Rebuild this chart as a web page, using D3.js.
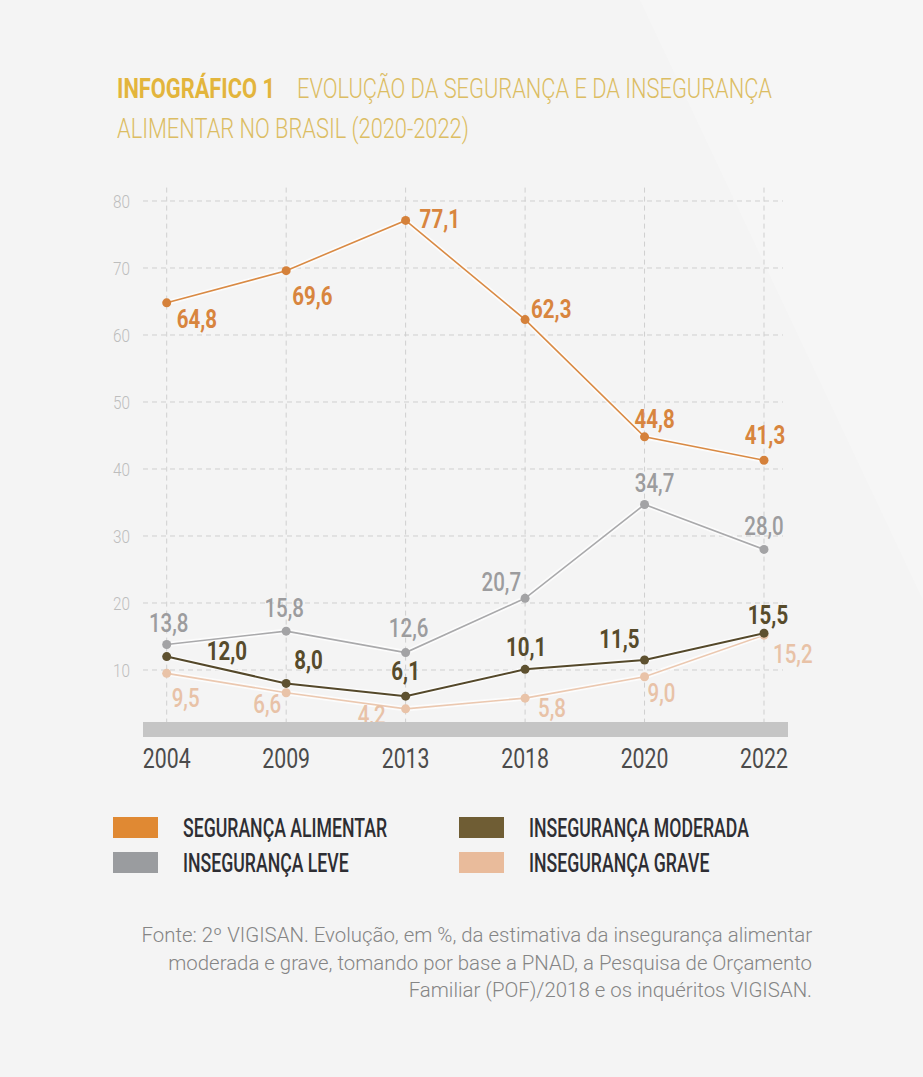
<!DOCTYPE html>
<html>
<head>
<meta charset="utf-8">
<script src="https://cdn.jsdelivr.net/npm/d3@7"></script>
<style>
    html, body { margin: 0; padding: 0; background: #f4f4f4; }
    svg { display: block; font-family: Roboto, "Liberation Sans", sans-serif; }
</style>
</head>
<body>
<div id="chartId"></div>
<script>
/*
Data
*/
const years = ["2004", "2009", "2013", "2018", "2020", "2022"];
const seguranca = [64.8, 69.6, 77.1, 62.3, 44.8, 41.3];
const inseg_leve = [13.8, 15.8, 12.6, 20.7, 34.7, 28.0];
const inseg_moderada = [12.0, 8.0, 6.1, 10.1, 11.5, 15.5];
const inseg_grave = [9.5, 6.6, 4.2, 5.8, 9.0, 15.2];
const y_ticks = [10, 20, 30, 40, 50, 60, 70, 80];
const series_names = ["SEGURANÇA ALIMENTAR", "INSEGURANÇA LEVE", "INSEGURANÇA MODERADA", "INSEGURANÇA GRAVE"];

const title_bold = "INFOGRÁFICO 1";
const title_1 = "EVOLUÇÃO DA SEGURANÇA E DA INSEGURANÇA";
const title_2 = "ALIMENTAR NO BRASIL (2020-2022)";
const source_lines = [
    "Fonte: 2º VIGISAN. Evolução, em %, da estimativa da insegurança alimentar",
    "moderada e grave, tomando por base a PNAD, a Pesquisa de Orçamento",
    "Familiar (POF)/2018 e os inquéritos VIGISAN."
];

/*
Label placement per point: [dx, dy, anchor]
*/
const place_seg = [[10, 25, "start"], [6, 34, "start"], [14, 8, "start"], [6, -2, "start"], [10, -9, "middle"], [1, -16, "middle"]];
const place_leve = [[2, -13, "middle"], [-2, -14, "middle"], [3, -16, "middle"], [-4, -7, "end"], [10, -13, "middle"], [0, -14, "middle"]];
const place_mod = [[40, 3, "start"], [8, -14, "start"], [0, -16, "middle"], [1, -13, "middle"], [-5, -12, "end"], [4, -9, "middle"]];
const place_grave = [[5, 34, "start"], [-5, 20, "end"], [-20, 15, "end"], [13, 19, "start"], [3, 25, "start"], [9, 28, "start"]];

const W = 923, H = 1077;
const fmt = v => d3.format(".1f")(v).replace(".", ",");

const svg = d3.select("#chartId").append("svg")
    .attr("width", W)
    .attr("height", H);

// background with a faint lighter diagonal panel
svg.append("rect").attr("width", W).attr("height", H).attr("fill", "#f4f4f4");
svg.append("polygon")
    .attr("points", `640,0 ${W},0 ${W},600`)
    .attr("fill", "#f6f6f6");

const x = d3.scalePoint().domain(years).range([166.7, 764]);
const y = d3.scaleLinear().domain([0, 80]).range([737, 201]);

function place(sel, px, py, sx) {
    sel.attr("transform", `translate(${px},${py}) scale(${sx},1)`);
    return sel;
}

/*
Title
*/
place(svg.append("text"), 117, 98, 0.78)
    .attr("font-size", 28).attr("font-weight", 700).attr("fill", "#e3b53c")
    .text(title_bold);
place(svg.append("text"), 297, 98, 0.78)
    .attr("font-size", 28).attr("font-weight", 300).attr("fill", "#dcbd63")
    .text(title_1);
place(svg.append("text"), 117, 138, 0.78)
    .attr("font-size", 28).attr("font-weight", 300).attr("fill", "#dcbd63")
    .text(title_2);

/*
Grid
*/
const g_grid = svg.append("g");
g_grid.selectAll("line.h").data(y_ticks).enter()
    .append("line").attr("class", "h")
    .attr("x1", 143).attr("x2", 783)
    .attr("y1", d => y(d)).attr("y2", d => y(d))
    .attr("stroke", "#cfcfcf").attr("stroke-dasharray", "5,4");
g_grid.selectAll("line.v").data(years).enter()
    .append("line").attr("class", "v")
    .attr("x1", d => x(d)).attr("x2", d => x(d))
    .attr("y1", y(82)).attr("y2", 722)
    .attr("stroke", "#cfcfcf").attr("stroke-dasharray", "5,4");

g_grid.selectAll("text").data(y_ticks).enter()
    .append("text")
    .each(function (d) { place(d3.select(this), 113, y(d) + 6.5, 0.85); })
    .attr("font-size", 18).attr("font-weight", 300).attr("fill", "#bdbdbd")
    .text(d => d);

/*
Series
*/
const series = [
    { values: inseg_leve, color: "#a9a9ab", dot: "#a3a3a5", label: "#9c9c9e", weight: 500, width: 1.6, place: place_leve },
    { values: inseg_grave, color: "#ebc8b0", dot: "#e9c3a8", label: "#e8c2a7", weight: 500, width: 1.6, place: place_grave },
    { values: inseg_moderada, color: "#54482a", dot: "#5e5130", label: "#574b2b", weight: 700, width: 2, place: place_mod },
    { values: seguranca, color: "#d98a44", dot: "#d5813a", label: "#d8853e", weight: 700, width: 1.6, place: place_seg }
];

const line = d3.line()
    .x((d, i) => x(years[i]))
    .y(d => y(d));

const g_lines = svg.append("g");
series.forEach(s => {
    g_lines.append("path").datum(s.values)
        .attr("d", line).attr("fill", "none")
        .attr("stroke", "#ffffff").attr("stroke-opacity", 0.7).attr("stroke-width", 5);
    g_lines.append("path").datum(s.values)
        .attr("d", line).attr("fill", "none")
        .attr("stroke", s.color).attr("stroke-width", s.width);
    g_lines.selectAll(null).data(s.values).enter()
        .append("circle")
        .attr("cx", (d, i) => x(years[i]))
        .attr("cy", d => y(d))
        .attr("r", 4.5)
        .attr("fill", s.dot);
});

const g_labels = svg.append("g");
series.forEach(s => {
    g_labels.selectAll(null).data(s.values).enter()
        .append("text")
        .each(function (d, i) {
            const p = s.place[i];
            place(d3.select(this), x(years[i]) + p[0], y(d) + p[1], 0.82)
                .attr("text-anchor", p[2]);
        })
        .attr("font-size", 25).attr("font-weight", s.weight).attr("fill", s.label)
        .text(d => fmt(d));
});

/*
Base bar and x labels
*/
svg.append("rect")
    .attr("x", 143).attr("y", 722).attr("width", 645).attr("height", 15)
    .attr("fill", "#c5c5c5");

svg.append("g").selectAll("text").data(years).enter()
    .append("text")
    .each(function (d) { place(d3.select(this), x(d), 768, 0.76); })
    .attr("text-anchor", "middle")
    .attr("font-size", 28).attr("font-weight", 400).attr("fill", "#4b4b4b")
    .text(d => d);

/*
Legend
*/
const legend_colors = ["#e08933", "#9a9c9f", "#6f5d34", "#e9bb9b"];
const legend_pos = [[113, 817], [113, 852], [459, 817], [459, 852]];
const g_legend = svg.append("g");
series_names.forEach((name, i) => {
    const p = legend_pos[i];
    g_legend.append("rect")
        .attr("x", p[0]).attr("y", p[1]).attr("width", 45).attr("height", 21)
        .attr("fill", legend_colors[i]);
    place(g_legend.append("text"), p[0] + 70, p[1] + 20, 0.68)
        .attr("font-size", 26).attr("font-weight", 500).attr("fill", "#2e2e33")
        .text(name);
});

/*
Source
*/
svg.append("g").selectAll("text").data(source_lines).enter()
    .append("text")
    .each(function (d, i) { place(d3.select(this), 812, 942 + i * 27.5, 1.0); })
    .attr("text-anchor", "end")
    .attr("font-size", 20.4).attr("font-weight", 300).attr("fill", "#858585")
    .text(d => d);
</script>
</body>
</html>
